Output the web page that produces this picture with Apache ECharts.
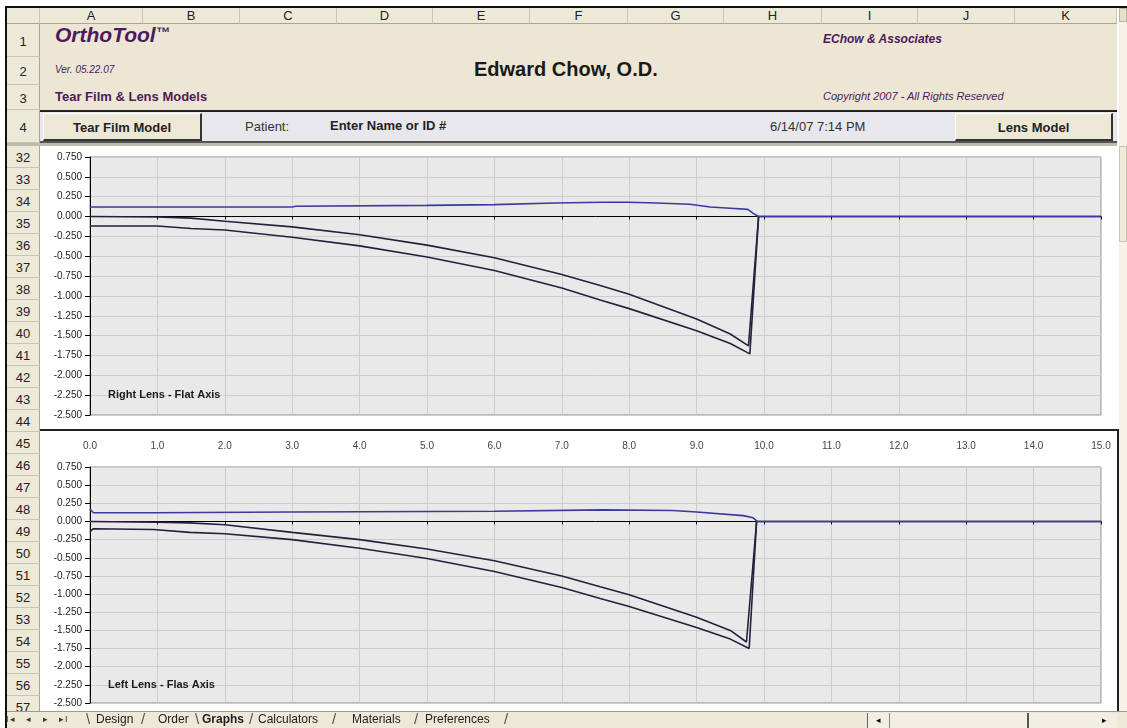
<!DOCTYPE html>
<html>
<head>
<meta charset="utf-8">
<script src="https://cdn.jsdelivr.net/npm/echarts@6/dist/echarts.min.js"></script>
<style>
  body { margin: 0; background: #fff; font-family: "Liberation Sans", Arial, sans-serif; }
  #sheet { position: absolute; left: 0; top: 0; width: 1127px; height: 728px; overflow: hidden; background: #fff; }
  .a { position: absolute; box-sizing: border-box; white-space: nowrap; }
  .hd { background: #ECE9D8; color: #222; font-size: 13px; text-align: center; }
  .col { top: 8px; height: 16px; line-height: 16px; border-right: 1px solid #c9c5b3; border-bottom: 1px solid #a9a58f; }
  .row { left: 7px; width: 33px; border-bottom: 1px solid #c9c5b3; border-right: 1px solid #a9a58f; }
  .purple { color: #4b1b5c; }
  .btn { top: 113px; height: 28px; line-height: 27px; background: #EDE8D6; font-weight: bold; font-size: 13px;
         text-align: center; border: 1px solid #fff; border-right: 2px solid #333; border-bottom: 2px solid #333; color: #222; }
  .tab { top: 712px; font-size: 12px; color: #222; line-height: 15px; }
  .sep { top: 711px; font-size: 15px; color: #555; line-height: 16px; }
</style>
</head>
<body>
<div id="sheet">
  <div id="chrome"></div>
  <div id="chart" class="a" style="left:0;top:0;width:1127px;height:728px"></div>
  <div id="tabs"></div>
</div>
<script>
// values

// x axis ticks (mm) and y axis range (mm)
const xTicks = [0, 1, 2, 3, 4, 5, 6, 7, 8, 9, 10, 11, 12, 13, 14, 15]
const yMin = -2.5
const yMax = 0.75

// Right lens - flat axis
const rUpperX = [0, 3.0, 3.05, 5.0, 6.0, 6.9, 7.6, 8.0, 8.4, 8.9, 9.2, 9.5, 9.76, 9.84, 9.92, 15]
const rUpperY = [0.12, 0.12, 0.13, 0.14, 0.15, 0.17, 0.18, 0.18, 0.17, 0.155, 0.12, 0.105, 0.09, 0.04, 0.0, 0.0]
const rMidX = [0, 1.0, 1.5, 2.0, 3.0, 4.0, 5.0, 6.0, 7.0, 7.57, 8.0, 9.0, 9.5, 9.77, 9.92]
const rMidY = [0.0, -0.005, -0.02, -0.06, -0.13, -0.23, -0.36, -0.52, -0.73, -0.87, -0.98, -1.29, -1.48, -1.63, 0.0]
const rLowX = [0, 1.0, 1.5, 2.0, 3.0, 4.0, 5.0, 6.0, 7.0, 7.57, 8.0, 9.0, 9.5, 9.79, 9.92, 15]
const rLowY = [-0.12, -0.12, -0.15, -0.17, -0.26, -0.37, -0.51, -0.68, -0.9, -1.05, -1.16, -1.44, -1.6, -1.73, 0.0, 0.0]

// Left lens - "Flas" axis
const lUpperX = [0, 0.05, 0.94, 0.95, 3.0, 6.0, 7.6, 8.65, 9.0, 9.69, 9.84, 9.9, 15]
const lUpperY = [0.17, 0.12, 0.12, 0.13, 0.13, 0.14, 0.16, 0.15, 0.13, 0.08, 0.05, 0.0, 0.0]
const lMidX = [0, 1.0, 1.48, 2.0, 3.0, 4.0, 5.0, 6.0, 7.0, 7.57, 8.0, 9.0, 9.5, 9.74, 9.89]
const lMidY = [0.0, -0.01, -0.02, -0.045, -0.15, -0.25, -0.38, -0.54, -0.75, -0.9, -1.01, -1.32, -1.5, -1.66, 0.0]
const lLowX = [0, 0.05, 0.94, 1.48, 2.0, 3.0, 4.0, 5.0, 6.0, 7.0, 7.57, 8.0, 9.0, 9.5, 9.78, 9.89, 15]
const lLowY = [-0.14, -0.1, -0.11, -0.15, -0.17, -0.25, -0.37, -0.51, -0.69, -0.91, -1.06, -1.17, -1.46, -1.62, -1.75, 0.0, 0.0]

// spreadsheet texts
const colLetters = ['A', 'B', 'C', 'D', 'E', 'F', 'G', 'H', 'I', 'J', 'K']
const rowNumbers = ['1', '2', '3', '4', '32', '33', '34', '35', '36', '37', '38', '39', '40', '41', '42', '43', '44',
  '45', '46', '47', '48', '49', '50', '51', '52', '53', '54', '55', '56', '57']
const sheetTabs = ['Design', 'Order', 'Graphs', 'Calculators', 'Materials', 'Preferences']

// ---- sheet chrome (plain html) ----
const chrome = document.getElementById('chrome')
const add = (parent, html) => parent.insertAdjacentHTML('beforeend', html)

add(chrome, '<div class="a" style="left:5px;top:6px;width:1122px;height:722px;border-left:2px solid #111;border-top:2px solid #111"></div>')
add(chrome, '<div class="a hd col" style="left:7px;width:33px"></div>')

const colEdges = [40, 143, 240, 337, 433, 530, 628, 724, 822, 918, 1015, 1117]
colLetters.forEach((c, i) => {
  add(chrome, `<div class="a hd col" style="left:${colEdges[i]}px;width:${colEdges[i + 1] - colEdges[i]}px">${c}</div>`)
})

const rowTops = [24, 57, 85, 110]
for (let i = 0; i < 26; i++) rowTops.push(146 + i * 22)
rowNumbers.forEach((r, i) => {
  const top = rowTops[i]
  const h = i < 3 ? rowTops[i + 1] - top : i === 3 ? 33 : 22
  add(chrome, `<div class="a hd row" style="top:${top}px;height:${h}px;line-height:${h + 2}px">${r}</div>`)
})
add(chrome, '<div class="a" style="left:7px;top:143px;width:1110px;height:3px;background:#bdbab0"></div>')

// banner rows 1-3
add(chrome, '<div class="a" style="left:40px;top:24px;width:1077px;height:87px;background:#EEE6D4"></div>')
add(chrome, '<div class="a purple" style="left:55px;top:23px;font-size:21px;font-weight:bold;font-style:italic">OrthoTool<span style="font-size:14px;vertical-align:5px">™</span></div>')
add(chrome, '<div class="a purple" style="left:55px;top:64px;font-size:10px;font-style:italic">Ver. 05.22.07</div>')
add(chrome, '<div class="a purple" style="left:55px;top:89px;font-size:13px;font-weight:bold">Tear Film &amp; Lens Models</div>')
add(chrome, '<div class="a" style="left:474px;top:58px;font-size:20px;font-weight:bold;color:#1a1a1a">Edward Chow, O.D.</div>')
add(chrome, '<div class="a purple" style="left:823px;top:32px;font-size:12px;font-weight:bold;font-style:italic">EChow &amp; Associates</div>')
add(chrome, '<div class="a purple" style="left:823px;top:90px;font-size:11px;font-style:italic">Copyright 2007 - All Rights Reserved</div>')

// row 4
add(chrome, '<div class="a" style="left:40px;top:110px;width:1077px;height:33px;background:#E8E8EC;border-top:2px solid #222;border-bottom:2px solid #555"></div>')
add(chrome, '<div class="a btn" style="left:43px;width:159px">Tear Film Model</div>')
add(chrome, '<div class="a btn" style="left:955px;width:158px">Lens Model</div>')
add(chrome, '<div class="a" style="left:245px;top:119px;font-size:13px;color:#333">Patient:</div>')
add(chrome, '<div class="a" style="left:330px;top:118px;font-size:13px;font-weight:bold;color:#222">Enter Name or ID #</div>')
add(chrome, '<div class="a" style="left:770px;top:119px;font-size:13px;color:#333">6/14/07 7:14 PM</div>')

// chart objects area
add(chrome, '<div class="a" style="left:40px;top:146px;width:1077px;height:566px;background:#fff"></div>')
add(chrome, '<div class="a" style="left:40px;top:429px;width:1079px;height:300px;border-top:2px solid #222;border-right:2px solid #222"></div>')

// vertical scrollbar
add(chrome, '<div class="a" style="left:1119px;top:8px;width:8px;height:703px;background:#F4F2E8"></div>')
add(chrome, '<div class="a" style="left:1119px;top:8px;width:8px;height:14px;background:#E4E0CE;border:1px solid #b8b49c"></div>')
add(chrome, '<div class="a" style="left:1119px;top:146px;width:8px;height:96px;background:#EDEAD9;border:1px solid #c9c5b0"></div>')

// sheet tab bar
const tabs = document.getElementById('tabs')
add(tabs, '<div class="a" style="left:7px;top:711px;width:1120px;height:17px;background:#ECE9D8;border-top:1px solid #9c9a8c"></div>')
add(tabs, '<div class="a tab" style="left:6px;font-size:9px;color:#333;letter-spacing:1px">I◂ &nbsp;&nbsp;◂ &nbsp;&nbsp;▸ &nbsp;&nbsp;▸I</div>')
const tabLeft = [96, 158, 202, 258, 352, 425]
const sepLeft = [86, 141, 195, 249, 332, 414, 504]
sepLeft.forEach((x, i) => add(tabs, `<div class="a sep" style="left:${x}px">${i % 2 === 0 && i < 3 ? '\\' : '/'}</div>`))
sheetTabs.forEach((t, i) => {
  add(tabs, `<div class="a tab" style="left:${tabLeft[i]}px;${t === 'Graphs' ? 'font-weight:bold' : ''}">${t}</div>`)
})
add(tabs, '<div class="a" style="left:867px;top:713px;width:250px;height:15px;background:#F1EFE4;border-left:1px solid #666"></div>')
add(tabs, '<div class="a" style="left:868px;top:713px;width:22px;height:15px;font-size:9px;text-align:center;line-height:15px;border-right:1px solid #888">◂</div>')
add(tabs, '<div class="a" style="left:1027px;top:713px;width:2px;height:15px;background:#555"></div>')
add(tabs, '<div class="a" style="left:1096px;top:713px;width:16px;height:15px;font-size:9px;text-align:center;line-height:15px">▸</div>')

// ---- charts ----
const pts = (xs, ys) => xs.map((x, i) => [x, ys[i]])

const gridBox = (top, height) => ({
  left: 90, top, width: 1011, height,
  show: true, backgroundColor: '#E9E9E9', borderColor: '#8a8a8a', borderWidth: 1
})

const splitLine = { show: true, lineStyle: { color: '#cdcdcd', width: 1 } }

const xZero = (gridIndex) => ({
  type: 'value', gridIndex, min: xTicks[0], max: xTicks[xTicks.length - 1], interval: 1,
  position: 'bottom',
  axisLine: { onZero: true, lineStyle: { color: '#000', width: 1 } },
  axisTick: { show: true, length: 3, lineStyle: { color: '#000' } },
  axisLabel: { show: false },
  splitLine
})

const yAxis = (gridIndex) => ({
  type: 'value', gridIndex, min: yMin, max: yMax, interval: 0.25,
  axisLine: { show: true, onZero: false, lineStyle: { color: '#000', width: 1 } },
  axisTick: { show: true, length: 5, lineStyle: { color: '#000' } },
  axisLabel: {
    margin: 8, fontSize: 10, color: '#222', fontFamily: 'Liberation Sans',
    formatter: (v) => v.toFixed(3)
  },
  splitLine
})

const line = (data, color, xAxisIndex, yAxisIndex, z) => ({
  type: 'line', data, xAxisIndex, yAxisIndex, z,
  showSymbol: false, silent: true, animation: false,
  lineStyle: { color, width: 1.6 }
})

const upperColor = '#3a3a9c'
const lowerColor = '#22223e'

const chart = echarts.init(document.getElementById('chart'), null, { renderer: 'canvas' })
chart.setOption({
  animation: false,
  title: [
    { text: 'Right Lens - Flat Axis', left: 103, top: 384, textStyle: { fontSize: 11, fontWeight: 'bold', color: '#1a1a1a', fontFamily: 'Liberation Sans' } },
    { text: 'Left Lens - Flas Axis', left: 103, top: 674, textStyle: { fontSize: 11, fontWeight: 'bold', color: '#1a1a1a', fontFamily: 'Liberation Sans' } }
  ],
  grid: [gridBox(157, 258), gridBox(467, 236)],
  xAxis: [
    xZero(0),
    xZero(1),
    {
      // tick labels shown in the band between the two charts
      type: 'value', gridIndex: 1, min: xTicks[0], max: xTicks[xTicks.length - 1], interval: 1,
      position: 'top',
      axisLine: { show: false, onZero: false },
      axisTick: { show: false },
      splitLine: { show: false },
      axisLabel: { margin: 16, fontSize: 10, color: '#444', fontFamily: 'Liberation Sans', formatter: (v) => v.toFixed(1) }
    }
  ],
  yAxis: [yAxis(0), yAxis(1)],
  series: [
    line(pts(rMidX, rMidY), lowerColor, 0, 0, 3),
    line(pts(rLowX, rLowY), lowerColor, 0, 0, 3),
    line(pts(rUpperX, rUpperY), upperColor, 0, 0, 4),
    line(pts(lMidX, lMidY), lowerColor, 1, 1, 3),
    line(pts(lLowX, lLowY), lowerColor, 1, 1, 3),
    line(pts(lUpperX, lUpperY), upperColor, 1, 1, 4)
  ]
})
</script>
</body>
</html>
